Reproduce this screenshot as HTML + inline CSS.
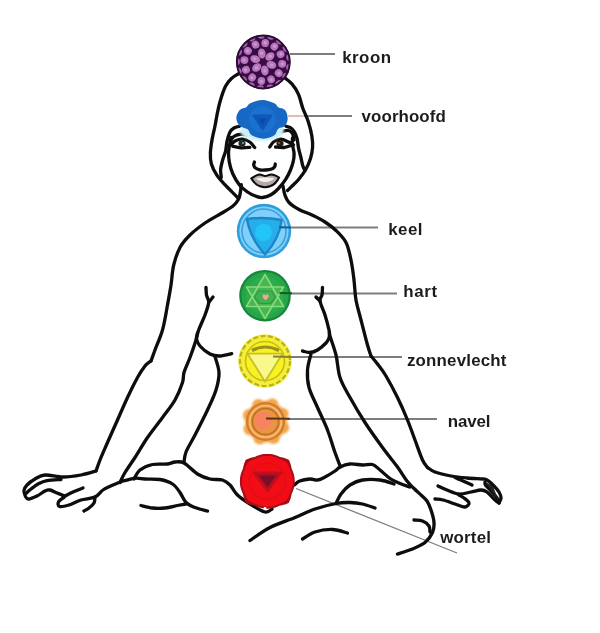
<!DOCTYPE html><html><head><meta charset="utf-8"><title>Chakra</title>
<style>html,body{margin:0;padding:0;background:#fff}svg{display:block}text{font-family:"Liberation Sans",sans-serif;font-size:16.9px;font-weight:bold;fill:#1e1e1e}</style></head><body>
<svg width="600" height="633" viewBox="0 0 600 633">
<defs><filter id="b" x="-5%" y="-5%" width="110%" height="110%"><feGaussianBlur stdDeviation="0.7"/></filter><filter id="b3" x="-20%" y="-20%" width="140%" height="140%"><feGaussianBlur stdDeviation="0.7"/></filter><filter id="b2" x="-20%" y="-20%" width="140%" height="140%"><feGaussianBlur stdDeviation="1.2"/></filter></defs>
<rect width="600" height="633" fill="#fff"/>
<g filter="url(#b)">
<line x1="290" y1="54" x2="335" y2="54" stroke="#7d7d7d" stroke-width="1.8"/>
<line x1="288" y1="116" x2="352" y2="116" stroke="#7d7d7d" stroke-width="1.8"/>
<line x1="279" y1="227.5" x2="378" y2="227.5" stroke="#7d7d7d" stroke-width="1.8"/>
<line x1="280" y1="293.5" x2="397" y2="293.5" stroke="#7d7d7d" stroke-width="1.8"/>
<line x1="273" y1="357" x2="402" y2="357" stroke="#7d7d7d" stroke-width="1.8"/>
<line x1="266" y1="419" x2="437" y2="419" stroke="#7d7d7d" stroke-width="1.8"/>
<line x1="296" y1="488.5" x2="457" y2="553" stroke="#7d7d7d" stroke-width="1.3"/>
<g fill="none" stroke="#0a0a0a" stroke-width="3.3" stroke-linecap="round" stroke-linejoin="round">
<path d="M238.0 74.0 C236.9 74.7 233.8 76.2 231.7 78.3 C229.6 80.3 227.4 82.4 225.5 86.3 C223.6 90.2 221.4 96.9 220.0 101.7 C218.6 106.5 217.8 111.0 217.0 115.0 C216.2 119.0 215.8 122.1 215.0 126.0 C214.2 129.9 213.1 134.0 212.3 138.4 C211.5 142.8 210.6 148.4 210.4 152.7 C210.2 157.0 210.3 160.2 211.4 164.0 C212.5 167.8 214.6 171.8 217.0 175.4 C219.4 179.0 222.5 182.1 225.6 185.4 C228.7 188.7 233.5 193.3 235.5 195.3 C237.5 197.3 237.2 197.1 237.5 197.5"/>
<path d="M239.7 126.2 C238.8 126.5 235.6 127.0 234.0 128.0 C232.4 129.0 231.2 129.8 230.0 132.0 C228.8 134.2 227.7 138.1 227.0 141.3 C226.3 144.5 226.3 148.1 225.6 151.2 C224.9 154.3 223.5 156.7 222.7 159.8 C221.9 162.9 220.8 166.8 220.6 169.7 C220.4 172.6 221.2 176.2 221.3 177.5"/>
<path d="M283.7 77.0 C285.0 78.1 289.2 80.8 291.7 83.7 C294.2 86.6 296.7 90.2 298.5 94.3 C300.3 98.3 301.1 103.5 302.7 108.0 C304.3 112.5 306.7 116.8 308.2 121.4 C309.7 126.0 311.1 131.3 311.8 135.6 C312.5 139.9 312.8 143.2 312.6 147.0 C312.4 150.8 311.7 154.6 310.5 158.4 C309.3 162.2 307.6 166.1 305.6 169.7 C303.6 173.2 300.8 176.8 298.4 179.7 C296.0 182.5 293.1 185.0 291.3 186.8 C289.5 188.6 288.1 189.9 287.5 190.5"/>
<path d="M286.0 126.2 C286.8 126.5 289.6 127.0 291.0 128.0 C292.4 129.0 293.5 130.3 294.5 132.0 C295.5 133.7 296.3 135.7 297.0 138.4 C297.7 141.1 298.0 145.3 298.6 148.4 C299.2 151.5 300.1 154.2 300.8 157.0 C301.5 159.8 302.0 163.2 302.7 165.5 C303.4 167.8 304.4 169.7 304.8 170.5"/>
<path d="M231.0 137.5 C230.9 138.1 230.8 138.7 230.4 141.0 C230.0 143.3 228.8 147.6 228.6 151.2 C228.4 154.8 228.7 158.8 229.4 162.6 C230.1 166.4 231.2 170.3 232.9 174.0 C234.6 177.7 237.1 182.0 239.5 185.0 C241.9 188.0 244.8 190.1 247.5 192.0 C250.2 193.9 253.5 195.4 256.0 196.3 C258.5 197.2 260.0 197.8 262.5 197.5 C265.0 197.2 268.4 196.1 271.0 194.7 C273.6 193.3 275.6 191.5 278.0 189.0 C280.4 186.5 283.4 182.9 285.5 179.7 C287.6 176.5 289.2 173.1 290.5 170.0 C291.8 166.9 292.7 164.1 293.3 161.2 C293.9 158.3 294.2 155.6 294.0 152.7 C293.8 149.8 292.6 146.4 292.3 144.0 C292.1 141.6 292.5 139.0 292.5 138.0"/>
<path d="M230.8 140.4 C231.3 139.7 232.3 137.3 234.0 136.3 C235.7 135.3 239.0 134.4 241.2 134.2 C243.4 134.0 246.0 134.8 247.0 134.9"/>
<path d="M281.0 131.8 C282.2 131.6 286.6 130.1 288.5 130.5 C290.4 130.9 291.8 132.4 292.7 134.0 C293.6 135.6 293.8 139.0 294.0 140.0"/>
<path d="M241.3 184.7 C241.1 186.0 240.8 190.3 240.3 192.7 C239.8 195.1 239.7 197.1 238.5 199.3 C237.3 201.5 235.9 203.6 233.0 206.0 C230.1 208.4 225.7 210.7 221.0 213.5 C216.3 216.3 210.2 219.4 205.0 223.0 C199.8 226.6 194.2 230.9 190.0 235.0 C185.8 239.1 182.7 242.5 180.0 247.5 C177.3 252.5 175.2 258.8 173.7 265.0 C172.2 271.2 172.0 278.3 171.0 285.0 C170.0 291.7 168.9 297.5 167.5 305.0 C166.1 312.5 164.6 322.5 162.5 330.0 C160.4 337.5 156.9 344.8 155.0 350.0 C153.1 355.2 151.7 359.2 151.0 361.0"/>
<path d="M151.0 361.0 C150.0 361.8 147.2 363.2 145.0 366.0 C142.8 368.8 140.4 372.2 137.5 377.5 C134.6 382.8 130.8 390.4 127.5 397.5 C124.2 404.6 120.8 412.5 117.5 420.0 C114.2 427.5 110.4 435.8 107.5 442.5 C104.6 449.2 101.9 455.2 100.0 460.0 C98.1 464.8 96.7 469.2 96.0 471.0"/>
<path d="M96.0 471.0 C93.5 471.7 86.5 474.0 81.0 475.0 C75.5 476.0 69.0 477.0 63.0 477.0 C57.0 477.0 49.7 474.7 45.0 475.0 C40.3 475.3 38.0 477.3 35.0 479.0 C32.0 480.7 28.8 483.1 27.0 485.0 C25.2 486.9 24.2 488.6 24.0 490.5 C23.8 492.4 24.8 495.1 25.5 496.5 C26.2 497.9 26.6 499.1 28.5 499.0 C30.4 498.9 34.2 497.3 37.0 496.0 C39.8 494.7 42.8 492.0 45.0 491.0 C47.2 490.0 48.0 489.7 50.0 490.0 C52.0 490.3 54.5 492.0 57.0 493.0 C59.5 494.0 63.7 495.5 65.0 496.0"/>
<path d="M26.5 493.0 C27.2 492.3 28.9 490.6 31.0 489.0 C33.1 487.4 36.3 484.9 39.0 483.5 C41.7 482.1 43.3 481.4 47.0 480.7 C50.7 480.0 58.7 479.7 61.0 479.5"/>
<path d="M63.0 497.0 C64.7 496.2 69.7 493.5 73.0 492.0 C76.3 490.5 81.3 488.7 83.0 488.0"/>
<path d="M64.0 497.5 C63.1 498.2 59.2 500.5 58.5 502.0 C57.8 503.5 57.8 506.0 59.5 506.5 C61.2 507.0 65.4 506.1 69.0 505.0 C72.6 503.9 76.7 501.3 81.0 500.0 C85.3 498.7 91.3 498.7 95.0 497.0 C98.7 495.3 100.0 492.0 103.0 490.0 C106.0 488.0 109.7 486.5 113.0 485.0 C116.3 483.5 119.3 482.2 123.0 481.0 C126.7 479.8 133.0 478.5 135.0 478.0"/>
<path d="M95.0 497.0 C94.8 498.0 95.0 501.2 94.0 503.0 C93.0 504.8 90.7 506.7 89.0 508.0 C87.3 509.3 84.8 510.5 84.0 511.0"/>
<path d="M135.0 478.0 C136.7 478.2 140.8 478.8 145.0 479.0 C149.2 479.2 155.4 478.7 160.0 479.5 C164.6 480.3 169.2 481.8 172.5 484.0 C175.8 486.2 177.8 489.4 180.0 492.5 C182.2 495.6 183.5 500.0 186.0 502.5 C188.5 505.0 191.4 506.1 195.0 507.5 C198.6 508.9 205.4 510.4 207.5 511.0"/>
<path d="M283.0 186.0 C283.3 187.6 284.0 192.6 285.0 195.3 C286.0 198.1 286.7 200.1 289.0 202.5 C291.3 204.9 295.0 207.3 299.0 209.5 C303.0 211.7 308.7 213.4 313.0 215.5 C317.3 217.6 321.2 219.5 325.0 222.0 C328.8 224.5 332.5 227.1 336.0 230.5 C339.5 233.9 343.5 237.6 346.0 242.5 C348.5 247.4 349.7 253.8 351.0 260.0 C352.3 266.2 353.2 273.3 354.0 280.0 C354.8 286.7 354.8 293.3 356.0 300.0 C357.2 306.7 359.1 312.5 361.0 320.0 C362.9 327.5 365.8 339.0 367.5 345.0 C369.2 351.0 370.4 354.2 371.0 356.0"/>
<path d="M371.0 356.0 C372.1 357.3 375.0 360.7 377.5 364.0 C380.0 367.3 382.7 370.4 386.0 376.0 C389.3 381.6 393.9 390.2 397.5 397.5 C401.1 404.8 404.6 412.9 407.5 420.0 C410.4 427.1 412.5 433.3 415.0 440.0 C417.5 446.7 420.4 455.4 422.5 460.0 C424.6 464.6 426.7 466.2 427.5 467.5"/>
<path d="M427.5 467.5 C428.8 468.2 431.1 470.6 435.0 472.0 C438.9 473.4 445.7 475.0 451.0 476.0 C456.3 477.0 461.7 477.5 467.0 478.0 C472.3 478.5 479.7 478.7 483.0 479.0 C486.3 479.3 485.3 479.0 487.0 480.0 C488.7 481.0 491.0 483.0 493.0 485.0 C495.0 487.0 497.7 489.8 499.0 492.0 C500.3 494.2 501.0 496.2 501.0 498.0 C501.0 499.8 499.3 502.2 499.0 503.0"/>
<path d="M485.0 482.0 C485.1 482.5 484.5 483.5 485.5 485.0 C486.5 486.5 489.1 488.8 491.0 491.0 C492.9 493.2 495.7 496.0 497.0 498.0 C498.3 500.0 498.7 502.2 499.0 503.0"/>
<path d="M455.0 477.5 C456.3 478.1 460.2 479.8 463.0 481.0 C465.8 482.2 470.5 484.3 472.0 485.0"/>
<path d="M438.0 486.0 C439.5 486.7 443.5 488.7 447.0 490.0 C450.5 491.3 455.0 493.7 459.0 494.0 C463.0 494.3 467.3 492.7 471.0 492.0 C474.7 491.3 478.3 490.0 481.0 490.0 C483.7 490.0 484.7 490.3 487.0 492.0 C489.3 493.7 493.0 498.2 495.0 500.0 C497.0 501.8 498.3 502.5 499.0 503.0"/>
<path d="M459.0 495.0 C459.8 495.5 462.3 496.7 464.0 498.0 C465.7 499.3 468.8 501.5 469.0 503.0 C469.2 504.5 467.3 506.8 465.0 507.0 C462.7 507.2 458.7 505.2 455.0 504.0 C451.3 502.8 446.3 500.8 443.0 500.0 C439.7 499.2 436.3 499.2 435.0 499.0"/>
<path d="M206.0 287.5 C206.1 288.8 206.1 292.5 206.5 295.0 C206.9 297.5 208.9 299.2 208.7 302.5 C208.4 305.8 206.7 310.4 205.0 315.0 C203.3 319.6 200.2 325.8 198.7 330.0 C197.2 334.2 197.4 335.4 196.0 340.0 C194.6 344.6 192.0 352.1 190.0 357.5 C188.0 362.9 185.2 368.3 184.0 372.5 C182.8 376.7 184.0 377.9 182.5 382.5 C181.0 387.1 178.3 394.2 175.0 400.0 C171.7 405.8 167.1 411.2 162.5 417.5 C157.9 423.8 152.1 430.8 147.5 437.5 C142.9 444.2 138.8 451.7 135.0 457.5 C131.2 463.3 127.5 468.3 125.0 472.5 C122.5 476.7 120.8 480.8 120.0 482.5"/>
<path d="M213.0 297.0 C212.3 297.9 209.4 301.6 208.7 302.5"/>
<path d="M197.5 333.0 C197.3 334.0 196.1 336.8 196.5 339.0 C196.9 341.2 197.8 343.5 200.0 346.0 C202.2 348.5 206.7 352.3 210.0 354.0 C213.3 355.7 216.4 356.1 220.0 356.0 C223.6 355.9 229.8 354.1 231.7 353.7"/>
<path d="M215.0 356.5 C215.7 359.2 218.8 366.9 219.0 372.5 C219.2 378.1 217.9 383.8 216.0 390.0 C214.1 396.2 211.0 402.5 207.5 410.0 C204.0 417.5 198.6 428.0 195.0 435.0 C191.4 442.0 187.8 447.4 186.0 452.0 C184.2 456.6 184.3 460.8 184.0 462.5"/>
<path d="M322.5 287.5 C322.4 288.8 322.4 292.8 322.0 295.0 C321.6 297.2 319.5 297.7 320.0 301.0 C320.5 304.3 323.5 310.2 325.0 315.0 C326.5 319.8 328.2 326.5 329.0 330.0 C329.8 333.5 328.8 331.8 330.0 336.0 C331.2 340.2 334.3 348.1 336.0 355.0 C337.7 361.9 337.7 370.4 340.0 377.5 C342.3 384.6 345.8 390.0 350.0 397.5 C354.2 405.0 359.6 414.2 365.0 422.5 C370.4 430.8 377.1 440.1 382.5 447.5 C387.9 454.9 393.4 461.4 397.5 467.0 C401.6 472.6 404.2 477.4 407.0 481.0 C409.8 484.6 411.7 486.2 414.0 488.5 C416.3 490.8 418.8 492.9 421.0 495.0 C423.2 497.1 425.3 498.5 427.0 501.0 C428.7 503.5 429.8 506.4 431.0 510.0 C432.2 513.6 433.8 518.8 434.0 522.5 C434.2 526.2 434.0 529.2 432.5 532.5 C431.0 535.8 428.3 539.8 425.0 542.5 C421.7 545.2 417.1 547.1 412.5 549.0 C407.9 550.9 400.0 553.2 397.5 554.0"/>
<path d="M316.0 297.0 C316.7 297.7 319.3 300.3 320.0 301.0"/>
<path d="M329.5 332.0 C329.4 333.0 329.6 336.2 329.0 338.0 C328.4 339.8 327.9 341.0 326.0 343.0 C324.1 345.0 320.2 348.4 317.5 350.0 C314.8 351.6 312.5 352.3 310.0 352.5 C307.5 352.7 303.8 351.2 302.5 351.0"/>
<path d="M311.0 354.0 C310.4 356.7 307.8 364.4 307.5 370.0 C307.2 375.6 307.3 381.2 309.0 387.5 C310.7 393.8 314.4 400.4 317.5 407.5 C320.6 414.6 324.6 422.5 327.5 430.0 C330.4 437.5 332.8 446.3 335.0 452.5 C337.2 458.7 339.6 464.6 340.5 467.0"/>
<path d="M134.0 479.0 C135.0 477.5 136.9 472.4 140.0 470.0 C143.1 467.6 147.9 465.5 152.5 464.5 C157.1 463.5 163.8 464.4 167.5 464.0 C171.2 463.6 172.2 462.2 175.0 462.0 C177.8 461.8 180.2 461.0 184.0 463.0 C187.8 465.0 193.2 471.3 197.5 474.0 C201.8 476.7 205.8 478.0 210.0 479.0 C214.2 480.0 219.2 479.0 222.5 480.0 C225.8 481.0 227.5 482.5 230.0 485.0 C232.5 487.5 234.2 491.8 237.5 495.0 C240.8 498.2 245.4 501.2 250.0 504.0 C254.6 506.8 261.3 511.2 265.0 512.0 C268.7 512.8 270.8 509.5 272.0 509.0"/>
<path d="M141.0 505.5 C142.9 505.9 148.5 507.6 152.5 508.0 C156.5 508.4 160.8 508.4 165.0 508.0 C169.2 507.6 174.0 506.2 177.5 505.5 C181.0 504.8 184.6 504.2 186.0 504.0"/>
<path d="M294.3 485.0 C295.2 484.3 297.1 482.0 299.7 481.0 C302.3 480.0 307.0 479.2 310.0 479.0 C313.0 478.8 315.0 480.3 317.5 480.0 C320.0 479.7 322.1 478.5 325.0 477.0 C327.9 475.5 332.5 472.7 335.0 471.0 C337.5 469.3 337.5 468.2 340.0 467.0 C342.5 465.8 346.2 464.3 350.0 464.0 C353.8 463.7 358.8 464.9 362.5 465.0 C366.2 465.1 369.6 463.7 372.5 464.5 C375.4 465.3 377.1 467.7 380.0 470.0 C382.9 472.3 386.7 476.2 390.0 478.5 C393.3 480.8 396.7 482.1 400.0 483.5 C403.3 484.9 408.3 486.4 410.0 487.0"/>
<path d="M336.0 503.5 C336.8 501.9 338.7 497.1 341.0 494.0 C343.3 490.9 346.4 487.3 350.0 485.0 C353.6 482.7 357.5 480.8 362.5 480.0 C367.5 479.2 374.8 479.3 380.0 480.0 C385.2 480.7 391.7 483.3 394.0 484.0"/>
<path d="M250.0 540.5 C253.3 538.3 262.5 531.3 270.0 527.5 C277.5 523.7 287.5 520.6 295.0 517.5 C302.5 514.4 308.2 511.3 315.0 509.0 C321.8 506.7 330.2 504.6 336.0 503.5 C341.8 502.4 345.6 502.4 350.0 502.5 C354.4 502.6 358.3 503.1 362.5 504.0 C366.7 504.9 372.9 507.3 375.0 508.0"/>
<path d="M302.5 539.0 C304.6 537.8 310.0 533.6 315.0 532.0 C320.0 530.4 327.1 529.3 332.5 529.5 C337.9 529.7 345.0 532.4 347.5 533.0"/>
<path d="M414.0 520.0 C415.4 520.2 420.0 520.0 422.5 521.0 C425.0 522.0 427.8 524.2 429.0 526.0 C430.2 527.8 429.8 531.0 430.0 532.0"/>
<path d="M254.5 162.0 C254.4 162.5 253.5 164.0 253.7 165.0 C253.9 166.0 254.4 167.2 255.5 168.0 C256.6 168.8 258.4 169.5 260.0 169.8 C261.6 170.1 263.5 170.1 265.3 170.0 C267.1 169.9 269.5 169.8 271.0 169.3 C272.5 168.8 273.8 167.9 274.5 167.0 C275.2 166.1 275.2 164.5 275.3 164.0"/>
<path d="M230.8 144.6 C231.6 144.0 233.5 141.7 235.5 140.8 C237.5 139.9 240.3 139.0 242.7 139.2 C245.1 139.4 247.8 140.6 249.8 142.0 C251.8 143.4 253.9 146.6 254.7 147.5"/>
<path d="M232.7 146.3 C234.1 146.6 238.3 147.6 241.2 147.8 C244.0 148.0 248.4 147.4 249.8 147.3"/>
<path d="M269.7 147.0 C270.4 146.1 272.1 142.8 274.0 141.5 C275.9 140.2 278.6 139.1 281.0 139.2 C283.4 139.3 286.4 141.1 288.5 142.0 C290.6 142.9 292.7 144.3 293.5 144.8"/>
<path d="M275.5 147.0 C276.9 147.1 281.4 147.8 284.0 147.5 C286.6 147.2 289.8 145.8 291.0 145.5"/>
</g>
<path d="M251.3 178.5 C255 176 257 174.5 259.5 174.5 C262 174.5 263.5 176 265.3 176 C267 176 269 174.5 271.5 174.5 C274 174.5 276.5 176 279 177.5 C277 182 274 185 270 186.3 C267 187.3 263 187.3 260 186.3 C256 185 253.5 182 251.3 178.5Z" fill="#b4aaa8" stroke="#0a0a0a" stroke-width="2"/>
<path d="M256 178.3 C260 177.3 270 177.3 274.5 178.3 C272 181 269 182 265.3 182 C261.5 182 258.5 181 256 178.3Z" fill="#f4f0ee"/>
<ellipse cx="242" cy="143.5" rx="3.6" ry="3" fill="#1d2b2a"/><circle cx="243" cy="143" r="1" fill="#58c8c0"/>
<ellipse cx="280" cy="143.5" rx="3.6" ry="3" fill="#2a1a10"/><circle cx="279" cy="143" r="1" fill="#a06030"/>
<clipPath id="cc"><circle cx="263.3" cy="62" r="27"/></clipPath>
<circle cx="263.3" cy="62" r="27" fill="#380c44"/>
<g clip-path="url(#cc)"><g filter="url(#b3)">
<ellipse cx="271.4" cy="64.9" rx="5.0" ry="3.8" fill="#b877ba" transform="rotate(20 271.4 64.9)"/>
<circle cx="271.8" cy="65.1" r="1.7" fill="#cf93d2"/>
<ellipse cx="264.8" cy="70.5" rx="5.0" ry="3.8" fill="#b877ba" transform="rotate(80 264.8 70.5)"/>
<circle cx="264.9" cy="70.9" r="1.7" fill="#cf93d2"/>
<ellipse cx="256.7" cy="67.5" rx="5.0" ry="3.8" fill="#b877ba" transform="rotate(140 256.7 67.5)"/>
<circle cx="256.4" cy="67.8" r="1.7" fill="#cf93d2"/>
<ellipse cx="255.2" cy="59.1" rx="5.0" ry="3.8" fill="#b877ba" transform="rotate(200 255.2 59.1)"/>
<circle cx="254.8" cy="58.9" r="1.7" fill="#cf93d2"/>
<ellipse cx="261.8" cy="53.5" rx="5.0" ry="3.8" fill="#b877ba" transform="rotate(260 261.8 53.5)"/>
<circle cx="261.7" cy="53.1" r="1.7" fill="#cf93d2"/>
<ellipse cx="269.9" cy="56.5" rx="5.0" ry="3.8" fill="#b877ba" transform="rotate(320 269.9 56.5)"/>
<circle cx="270.2" cy="56.2" r="1.7" fill="#cf93d2"/>
<ellipse cx="282.2" cy="63.9" rx="4.0" ry="3.8" fill="#b672b8" transform="rotate(6 282.2 63.9)"/>
<circle cx="282.6" cy="63.9" r="1.7" fill="#cf93d2"/>
<ellipse cx="278.7" cy="73.1" rx="4.0" ry="3.8" fill="#b672b8" transform="rotate(36 278.7 73.1)"/>
<circle cx="279.0" cy="73.3" r="1.7" fill="#cf93d2"/>
<ellipse cx="271.1" cy="79.3" rx="4.0" ry="3.8" fill="#b672b8" transform="rotate(66 271.1 79.3)"/>
<circle cx="271.3" cy="79.7" r="1.7" fill="#cf93d2"/>
<ellipse cx="261.4" cy="80.9" rx="4.0" ry="3.8" fill="#b672b8" transform="rotate(96 261.4 80.9)"/>
<circle cx="261.4" cy="81.3" r="1.7" fill="#cf93d2"/>
<ellipse cx="252.2" cy="77.4" rx="4.0" ry="3.8" fill="#b672b8" transform="rotate(126 252.2 77.4)"/>
<circle cx="252.0" cy="77.7" r="1.7" fill="#cf93d2"/>
<ellipse cx="246.0" cy="69.8" rx="4.0" ry="3.8" fill="#b672b8" transform="rotate(156 246.0 69.8)"/>
<circle cx="245.6" cy="70.0" r="1.7" fill="#cf93d2"/>
<ellipse cx="244.4" cy="60.1" rx="4.0" ry="3.8" fill="#b672b8" transform="rotate(186 244.4 60.1)"/>
<circle cx="244.0" cy="60.1" r="1.7" fill="#cf93d2"/>
<ellipse cx="247.9" cy="50.9" rx="4.0" ry="3.8" fill="#b672b8" transform="rotate(216 247.9 50.9)"/>
<circle cx="247.6" cy="50.7" r="1.7" fill="#cf93d2"/>
<ellipse cx="255.5" cy="44.7" rx="4.0" ry="3.8" fill="#b672b8" transform="rotate(246 255.5 44.7)"/>
<circle cx="255.3" cy="44.3" r="1.7" fill="#cf93d2"/>
<ellipse cx="265.2" cy="43.1" rx="4.0" ry="3.8" fill="#b672b8" transform="rotate(276 265.2 43.1)"/>
<circle cx="265.2" cy="42.7" r="1.7" fill="#cf93d2"/>
<ellipse cx="274.4" cy="46.6" rx="4.0" ry="3.8" fill="#b672b8" transform="rotate(306 274.4 46.6)"/>
<circle cx="274.6" cy="46.3" r="1.7" fill="#cf93d2"/>
<ellipse cx="280.6" cy="54.2" rx="4.0" ry="3.8" fill="#b672b8" transform="rotate(336 280.6 54.2)"/>
<circle cx="281.0" cy="54.0" r="1.7" fill="#cf93d2"/>
<ellipse cx="289.4" cy="67.3" rx="3.2" ry="3.6" fill="#a866ac" transform="rotate(11 289.4 67.3)"/>
<circle cx="289.8" cy="67.4" r="1.6" fill="#cf93d2"/>
<ellipse cx="285.7" cy="76.3" rx="3.2" ry="3.6" fill="#a866ac" transform="rotate(33 285.7 76.3)"/>
<circle cx="286.0" cy="76.6" r="1.6" fill="#cf93d2"/>
<ellipse cx="279.0" cy="83.5" rx="3.2" ry="3.6" fill="#a866ac" transform="rotate(54 279.0 83.5)"/>
<circle cx="279.2" cy="83.8" r="1.6" fill="#cf93d2"/>
<ellipse cx="270.2" cy="87.7" rx="3.2" ry="3.6" fill="#a866ac" transform="rotate(75 270.2 87.7)"/>
<circle cx="270.3" cy="88.1" r="1.6" fill="#cf93d2"/>
<ellipse cx="260.4" cy="88.4" rx="3.2" ry="3.6" fill="#a866ac" transform="rotate(96 260.4 88.4)"/>
<circle cx="260.4" cy="88.8" r="1.6" fill="#cf93d2"/>
<ellipse cx="251.1" cy="85.6" rx="3.2" ry="3.6" fill="#a866ac" transform="rotate(117 251.1 85.6)"/>
<circle cx="250.9" cy="86.0" r="1.6" fill="#cf93d2"/>
<ellipse cx="243.4" cy="79.6" rx="3.2" ry="3.6" fill="#a866ac" transform="rotate(139 243.4 79.6)"/>
<circle cx="243.1" cy="79.9" r="1.6" fill="#cf93d2"/>
<ellipse cx="238.4" cy="71.2" rx="3.2" ry="3.6" fill="#a866ac" transform="rotate(160 238.4 71.2)"/>
<circle cx="238.0" cy="71.4" r="1.6" fill="#cf93d2"/>
<ellipse cx="236.7" cy="61.6" rx="3.2" ry="3.6" fill="#a866ac" transform="rotate(181 236.7 61.6)"/>
<circle cx="236.3" cy="61.6" r="1.6" fill="#cf93d2"/>
<ellipse cx="238.6" cy="52.0" rx="3.2" ry="3.6" fill="#a866ac" transform="rotate(202 238.6 52.0)"/>
<circle cx="238.3" cy="51.9" r="1.6" fill="#cf93d2"/>
<ellipse cx="243.9" cy="43.8" rx="3.2" ry="3.6" fill="#a866ac" transform="rotate(223 243.9 43.8)"/>
<circle cx="243.6" cy="43.5" r="1.6" fill="#cf93d2"/>
<ellipse cx="251.8" cy="38.0" rx="3.2" ry="3.6" fill="#a866ac" transform="rotate(244 251.8 38.0)"/>
<circle cx="251.6" cy="37.7" r="1.6" fill="#cf93d2"/>
<ellipse cx="261.2" cy="35.5" rx="3.2" ry="3.6" fill="#a866ac" transform="rotate(266 261.2 35.5)"/>
<circle cx="261.2" cy="35.1" r="1.6" fill="#cf93d2"/>
<ellipse cx="271.0" cy="36.5" rx="3.2" ry="3.6" fill="#a866ac" transform="rotate(287 271.0 36.5)"/>
<circle cx="271.1" cy="36.1" r="1.6" fill="#cf93d2"/>
<ellipse cx="279.7" cy="41.0" rx="3.2" ry="3.6" fill="#a866ac" transform="rotate(308 279.7 41.0)"/>
<circle cx="279.9" cy="40.7" r="1.6" fill="#cf93d2"/>
<ellipse cx="286.1" cy="48.3" rx="3.2" ry="3.6" fill="#a866ac" transform="rotate(329 286.1 48.3)"/>
<circle cx="286.5" cy="48.1" r="1.6" fill="#cf93d2"/>
<ellipse cx="289.5" cy="57.5" rx="3.2" ry="3.6" fill="#a866ac" transform="rotate(350 289.5 57.5)"/>
<circle cx="289.9" cy="57.4" r="1.6" fill="#cf93d2"/>
</g></g>
<circle cx="263.3" cy="62" r="26.4" fill="none" stroke="#2a0834" stroke-width="2"/>
<ellipse cx="262" cy="131" rx="22" ry="10" fill="#cfeefa" filter="url(#b2)"/>
<path d="M236.3 118.0 C236.3 115.3 238.0 111.8 239.7 110.0 C241.4 108.2 244.5 108.4 246.3 107.3 C248.1 106.2 247.6 104.5 250.3 103.3 C253.0 102.1 258.3 100.0 262.3 100.0 C266.3 100.0 271.6 102.1 274.3 103.3 C277.0 104.5 276.5 106.2 278.3 107.3 C280.1 108.4 283.4 108.2 285.0 110.0 C286.6 111.8 287.7 115.3 287.7 118.0 C287.7 120.7 286.6 124.2 285.0 126.0 C283.4 127.8 280.1 127.1 278.3 128.7 C276.5 130.2 276.7 133.6 274.3 135.3 C271.9 137.0 267.5 138.7 263.7 138.7 C259.9 138.7 254.4 136.9 251.7 135.3 C249.0 133.7 249.7 130.9 247.7 129.3 C245.7 127.8 241.6 127.9 239.7 126.0 C237.8 124.1 236.3 120.7 236.3 118.0Z" fill="#1668c4"/>
<circle cx="262.3" cy="119.5" r="13.5" fill="#1a70cf"/>
<path d="M253.5 115.5 L271.5 115.5 L262.5 129.5Z" fill="#1158ba" stroke="#1158ba" stroke-width="2" stroke-linejoin="round"/>
<path d="M258.5 118.5 L266.5 118.5 L262.5 125Z" fill="#0c46a8"/>
<circle cx="264" cy="231" r="27.2" fill="#2f9fdb"/>
<circle cx="264" cy="231" r="24.6" fill="#7fd0fb"/>
<circle cx="264" cy="231" r="22" fill="none" stroke="#3a9fdc" stroke-width="1.6"/>
<path d="M247 219 Q264 216.5 281.5 220 Q280 238 265 254.5 Q250 238 247 219Z" fill="#28aeea" stroke="#1c86c8" stroke-width="2.4" stroke-linejoin="round"/>
<circle cx="263.5" cy="232.5" r="8.5" fill="#22c6f6"/>
<circle cx="265" cy="295.7" r="25.8" fill="#14863a"/>
<circle cx="265" cy="295.7" r="23.6" fill="#27a649"/>
<circle cx="265" cy="295.7" r="19" fill="#2cae4e"/>
<g fill="#44b852" stroke="none">
<path d="M265 274.5 L283.5 306.5 L246.5 306.5Z"/>
<path d="M265 318.5 L283.5 287 L246.5 287Z"/>
</g>
<g fill="none" stroke="#8ad87a" stroke-width="1.6" stroke-linejoin="round">
<path d="M265 274.5 L283.5 306.5 L246.5 306.5Z"/>
<path d="M265 318.5 L283.5 287 L246.5 287Z"/>
<path d="M258.5 291 L271.5 291 L275.5 297.5 L270.5 303.5 L259.5 303.5 L254.5 297.5Z" stroke="#2c9a46" stroke-width="1.2" fill="#3fb350"/>
</g>
<path d="M265.6 300.2 C263 298.2 262.3 296.6 262.6 295.4 C263 294 264.8 294 265.6 295.4 C266.4 294 268.2 294 268.6 295.4 C268.9 296.6 268.2 298.2 265.6 300.2Z" fill="#f4a49e"/>
<circle cx="265" cy="361" r="26.8" fill="#f3ee3c"/>
<circle cx="265" cy="361" r="25" fill="none" stroke="#b9b023" stroke-width="2.2" stroke-dasharray="5 2.5"/>
<circle cx="265" cy="361" r="21.5" fill="#f8f220"/>
<circle cx="265" cy="361" r="19.5" fill="none" stroke="#c4ba24" stroke-width="1.6"/>
<path d="M252 350.5 Q265 343.5 279 350.5" fill="none" stroke="#9c9020" stroke-width="3.2"/>
<path d="M247.5 353.7 L282.5 353.7 L265 381.5Z" fill="#f9f88c" stroke="#c9bf2c" stroke-width="1.8" stroke-linejoin="round"/>
<g fill="#f2a548" filter="url(#b2)">
<circle cx="282.9" cy="427.7" r="6.2"/>
<circle cx="273.6" cy="437.8" r="6.2"/>
<circle cx="259.8" cy="438.4" r="6.2"/>
<circle cx="249.7" cy="429.1" r="6.2"/>
<circle cx="249.1" cy="415.3" r="6.2"/>
<circle cx="258.4" cy="405.2" r="6.2"/>
<circle cx="272.2" cy="404.6" r="6.2"/>
<circle cx="282.3" cy="413.9" r="6.2"/>
<circle cx="266" cy="421.5" r="21"/>
</g>
<circle cx="265.5" cy="421.5" r="19.3" fill="#e38d3a"/>
<circle cx="265.5" cy="421.5" r="18.6" fill="none" stroke="#c8762a" stroke-width="1.3"/>
<circle cx="265.5" cy="421.5" r="15.8" fill="none" stroke="#f7c27a" stroke-width="1.6"/>
<circle cx="265.5" cy="421.5" r="13" fill="#ea9444" stroke="#c26e24" stroke-width="1.5"/>
<circle cx="263" cy="420.5" r="8.6" fill="#f8845e"/>
<path d="M266 418.5 L290 418.8" stroke="#5a3318" stroke-width="2"/>
<path d="M294.7 481.3 L294.7 482.5 L294.6 483.7 L294.5 484.9 L294.3 486.1 L294.1 487.2 L293.8 488.4 L293.4 489.5 L293.0 490.7 L292.6 491.8 L292.1 492.9 L291.6 494.0 L291.4 495.2 L291.1 496.5 L290.8 497.7 L290.4 499.0 L289.9 500.3 L289.4 501.5 L288.8 502.8 L287.5 503.4 L286.3 503.9 L285.0 504.4 L283.7 504.8 L282.5 505.1 L281.2 505.4 L280.0 505.6 L278.9 506.1 L277.8 506.6 L276.7 507.0 L275.5 507.4 L274.4 507.8 L273.2 508.1 L272.1 508.3 L270.9 508.5 L269.7 508.6 L268.5 508.7 L267.3 508.7 L266.1 508.7 L264.9 508.6 L263.7 508.5 L262.5 508.3 L261.4 508.1 L260.2 507.8 L259.1 507.4 L257.9 507.0 L256.8 506.6 L255.7 506.1 L254.6 505.6 L253.4 505.4 L252.1 505.1 L250.9 504.8 L249.6 504.4 L248.3 503.9 L247.1 503.4 L245.8 502.8 L245.2 501.5 L244.7 500.3 L244.2 499.0 L243.8 497.7 L243.5 496.5 L243.2 495.2 L243.0 494.0 L242.5 492.9 L242.0 491.8 L241.6 490.7 L241.2 489.5 L240.8 488.4 L240.5 487.2 L240.3 486.1 L240.1 484.9 L240.0 483.7 L239.9 482.5 L239.9 481.3 L239.9 480.1 L240.0 478.9 L240.1 477.7 L240.3 476.5 L240.5 475.4 L240.8 474.2 L241.2 473.1 L241.6 471.9 L242.0 470.8 L242.5 469.7 L243.0 468.6 L243.2 467.4 L243.5 466.1 L243.8 464.9 L244.2 463.6 L244.7 462.3 L245.2 461.1 L245.8 459.8 L247.1 459.2 L248.3 458.7 L249.6 458.2 L250.9 457.8 L252.1 457.5 L253.4 457.2 L254.6 457.0 L255.7 456.5 L256.8 456.0 L257.9 455.6 L259.1 455.2 L260.2 454.8 L261.4 454.5 L262.5 454.3 L263.7 454.1 L264.9 454.0 L266.1 453.9 L267.3 453.9 L268.5 453.9 L269.7 454.0 L270.9 454.1 L272.1 454.3 L273.2 454.5 L274.4 454.8 L275.5 455.2 L276.7 455.6 L277.8 456.0 L278.9 456.5 L280.0 457.0 L281.2 457.2 L282.5 457.5 L283.7 457.8 L285.0 458.2 L286.3 458.7 L287.5 459.2 L288.8 459.8 L289.4 461.1 L289.9 462.3 L290.4 463.6 L290.8 464.9 L291.1 466.1 L291.4 467.4 L291.6 468.6 L292.1 469.7 L292.6 470.8 L293.0 471.9 L293.4 473.1 L293.8 474.2 L294.1 475.4 L294.3 476.5 L294.5 477.7 L294.6 478.9 L294.7 480.1Z" fill="#a80818"/>
<path d="M292.7 481.3 L292.7 482.4 L292.6 483.5 L292.5 484.6 L292.3 485.7 L292.1 486.8 L291.8 487.9 L291.5 488.9 L291.2 490.0 L290.8 491.0 L290.3 492.0 L289.8 493.0 L289.5 494.1 L289.1 495.2 L288.6 496.2 L288.1 497.3 L287.6 498.3 L287.0 499.3 L286.3 500.3 L285.3 501.0 L284.3 501.6 L283.3 502.1 L282.2 502.6 L281.2 503.1 L280.1 503.5 L279.0 503.8 L278.0 504.3 L277.0 504.8 L276.0 505.2 L274.9 505.5 L273.9 505.8 L272.8 506.1 L271.7 506.3 L270.6 506.5 L269.5 506.6 L268.4 506.7 L267.3 506.7 L266.2 506.7 L265.1 506.6 L264.0 506.5 L262.9 506.3 L261.8 506.1 L260.7 505.8 L259.7 505.5 L258.6 505.2 L257.6 504.8 L256.6 504.3 L255.6 503.8 L254.5 503.5 L253.4 503.1 L252.4 502.6 L251.3 502.1 L250.3 501.6 L249.3 501.0 L248.3 500.3 L247.6 499.3 L247.0 498.3 L246.5 497.3 L246.0 496.2 L245.5 495.2 L245.1 494.1 L244.8 493.0 L244.3 492.0 L243.8 491.0 L243.4 490.0 L243.1 488.9 L242.8 487.9 L242.5 486.8 L242.3 485.7 L242.1 484.6 L242.0 483.5 L241.9 482.4 L241.9 481.3 L241.9 480.2 L242.0 479.1 L242.1 478.0 L242.3 476.9 L242.5 475.8 L242.8 474.7 L243.1 473.7 L243.4 472.6 L243.8 471.6 L244.3 470.6 L244.8 469.6 L245.1 468.5 L245.5 467.4 L246.0 466.4 L246.5 465.3 L247.0 464.3 L247.6 463.3 L248.3 462.3 L249.3 461.6 L250.3 461.0 L251.3 460.5 L252.4 460.0 L253.4 459.5 L254.5 459.1 L255.6 458.8 L256.6 458.3 L257.6 457.8 L258.6 457.4 L259.7 457.1 L260.7 456.8 L261.8 456.5 L262.9 456.3 L264.0 456.1 L265.1 456.0 L266.2 455.9 L267.3 455.9 L268.4 455.9 L269.5 456.0 L270.6 456.1 L271.7 456.3 L272.8 456.5 L273.9 456.8 L274.9 457.1 L276.0 457.4 L277.0 457.8 L278.0 458.3 L279.0 458.8 L280.1 459.1 L281.2 459.5 L282.2 460.0 L283.3 460.5 L284.3 461.0 L285.3 461.6 L286.3 462.3 L287.0 463.3 L287.6 464.3 L288.1 465.3 L288.6 466.4 L289.1 467.4 L289.5 468.5 L289.8 469.6 L290.3 470.6 L290.8 471.6 L291.2 472.6 L291.5 473.7 L291.8 474.7 L292.1 475.8 L292.3 476.9 L292.5 478.0 L292.6 479.1 L292.7 480.2Z" fill="#f20d12"/>
<circle cx="267.3" cy="481.3" r="18" fill="none" stroke="#e00a14" stroke-width="1.5"/>
<path d="M254 472.8 L281 472.8 L267.5 491Z" fill="#a80c24" stroke="#c40e1e" stroke-width="2.5" stroke-linejoin="round"/>
<path d="M259.5 476 L275.5 476 L267.5 487Z" fill="#7c0a28"/>
<circle cx="265" cy="508.3" r="1.4" fill="#fff"/>
<!--pinkstart--><path d="M287 116 L304 116" stroke="#dcc0c0" stroke-width="2.2"/>
<path d="M485 481.5 L499 502 L493 486Z" fill="#222"/>
<path d="M279 227.3 L291 227.4" stroke="#1a5c94" stroke-width="2"/>
<path d="M279.5 293 L292 293.3" stroke="#155c2a" stroke-width="2"/>
<path d="M273 356.5 L292 357" stroke="#8a8030" stroke-width="1.8"/>
</g>
<g filter="url(#b)">
<text x="342.2" y="63.3" textLength="48.8" lengthAdjust="spacing">kroon</text>
<text x="361.6" y="121.7" textLength="84.2" lengthAdjust="spacing">voorhoofd</text>
<text x="388.2" y="235" textLength="34.3" lengthAdjust="spacing">keel</text>
<text x="403.2" y="297.3" textLength="34" lengthAdjust="spacing">hart</text>
<text x="407" y="365.7" textLength="99.4" lengthAdjust="spacing">zonnevlecht</text>
<text x="447.8" y="426.7" textLength="42.6" lengthAdjust="spacing">navel</text>
<text x="440.3" y="542.5" textLength="50.6" lengthAdjust="spacing">wortel</text>
</g>
</svg></body></html>
